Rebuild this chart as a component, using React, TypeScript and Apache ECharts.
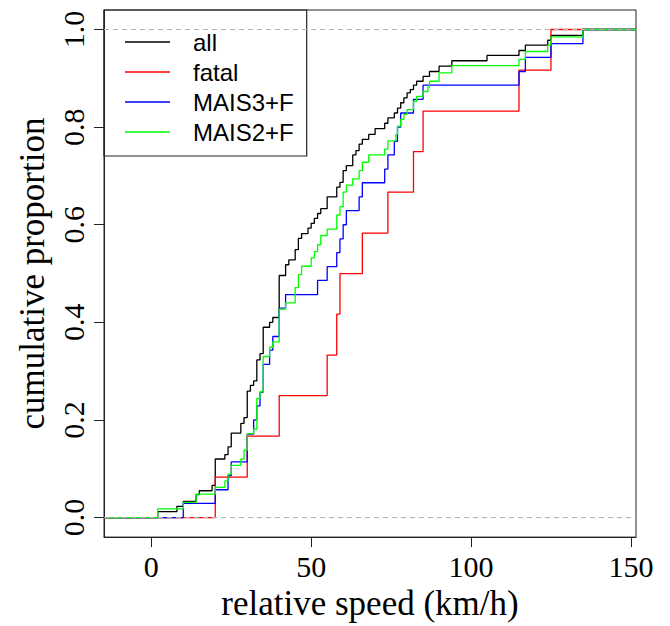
import React, { useEffect, useRef } from "react";
import * as echarts from "echarts";

const X_MIN = -14.8;
const X_MAX = 151.6;
const Y_MIN = -0.04;
const Y_MAX = 1.04;

const xTicks = [0, 50, 100, 150];
const yTicks = [0, 0.2, 0.4, 0.6, 0.8, 1.0];

const seriesNames = ["all", "fatal", "MAIS3+F", "MAIS2+F"];
const seriesColors = ["#000000", "#ff0000", "#0000ff", "#00ff00"];

// jump positions (km/h) and cumulative proportion after each jump
const allX = [2, 8, 10, 14, 15, 19, 20, 23, 24, 25, 28, 29, 30, 31, 32, 33, 34, 35, 37, 38, 40, 42, 43, 45, 46, 47, 49, 50, 51, 52, 53, 55, 58, 59, 60, 61, 63, 64, 65, 66, 68, 70, 73, 74, 76, 77, 78, 79, 80, 81, 82, 83, 85, 87, 90, 94, 105, 115, 117, 124, 125, 135];
const allY = [0.012, 0.023, 0.033, 0.047, 0.055, 0.066, 0.12, 0.129, 0.145, 0.173, 0.193, 0.205, 0.259, 0.271, 0.28, 0.323, 0.336, 0.39, 0.4, 0.41, 0.496, 0.518, 0.528, 0.549, 0.572, 0.582, 0.593, 0.603, 0.613, 0.623, 0.633, 0.657, 0.677, 0.687, 0.711, 0.721, 0.743, 0.752, 0.765, 0.775, 0.785, 0.797, 0.808, 0.819, 0.829, 0.839, 0.85, 0.86, 0.87, 0.877, 0.886, 0.894, 0.904, 0.914, 0.925, 0.936, 0.947, 0.957, 0.968, 0.978, 0.988, 1.0];

const fatalX = [20, 30, 40, 55, 58, 59, 66, 74, 82, 85, 115, 125];
const fatalY = [0.083, 0.167, 0.25, 0.333, 0.417, 0.5, 0.583, 0.667, 0.75, 0.833, 0.917, 1.0];

const mais3X = [10, 20, 24, 25, 30, 32, 33, 34, 35, 37, 38, 40, 42, 52, 55, 58, 59, 60, 61, 65, 66, 73, 74, 76, 77, 78, 82, 85, 115, 117, 125, 135];
const mais3Y = [0.029, 0.057, 0.086, 0.114, 0.171, 0.2, 0.229, 0.257, 0.314, 0.343, 0.371, 0.429, 0.457, 0.486, 0.514, 0.543, 0.571, 0.6, 0.629, 0.657, 0.686, 0.714, 0.743, 0.771, 0.8, 0.829, 0.857, 0.886, 0.914, 0.943, 0.971, 1.0];

const mais2X = [2, 10, 14, 20, 23, 24, 25, 28, 29, 30, 32, 33, 34, 35, 37, 38, 40, 42, 45, 46, 47, 50, 51, 52, 53, 55, 58, 59, 60, 61, 63, 65, 66, 68, 73, 74, 76.5, 77, 78, 79, 80, 82, 83, 85, 86.5, 87, 90, 94, 115, 117, 124, 125, 135];
const mais2Y = [0.018, 0.031, 0.048, 0.062, 0.075, 0.089, 0.107, 0.12, 0.138, 0.172, 0.181, 0.244, 0.258, 0.33, 0.349, 0.36, 0.427, 0.44, 0.471, 0.498, 0.515, 0.532, 0.545, 0.559, 0.578, 0.591, 0.62, 0.637, 0.667, 0.681, 0.694, 0.711, 0.728, 0.743, 0.755, 0.772, 0.785, 0.802, 0.816, 0.826, 0.836, 0.853, 0.863, 0.873, 0.882, 0.894, 0.911, 0.926, 0.939, 0.955, 0.968, 0.985, 1.0];

const seriesX = [allX, fatalX, mais3X, mais2X];
const seriesY = [allY, fatalY, mais3Y, mais2Y];

function steps(xs: number[], ys: number[]) {
  const pts: number[][] = [[X_MIN, 0]];
  xs.forEach((x, i) => pts.push([x, ys[i]]));
  pts.push([X_MAX, ys[ys.length - 1]]);
  return pts;
}

const SERIF = "'Liberation Serif', 'Times New Roman', serif";
const SANS = "'Liberation Sans', Arial, sans-serif";

export default function App() {
  const ref = useRef<HTMLDivElement>(null);
  useEffect(() => {
    if (!ref.current) return;
    const chart = echarts.init(ref.current, null, { renderer: "svg" });
    const lineSeries: any[] = seriesNames.map((name, i) => ({
      type: "line",
      name,
      data: steps(seriesX[i], seriesY[i]),
      step: "end",
      symbol: "none",
      showSymbol: false,
      lineStyle: { color: seriesColors[i], width: 1.3 },
      itemStyle: { color: seriesColors[i] },
      z: 2 + i,
      silent: true,
    }));
    [0, 1].forEach((lvl) => {
      lineSeries.push({
        type: "line",
        name: "ref" + lvl,
        data: [
          [X_MIN, lvl],
          [X_MAX, lvl],
        ],
        symbol: "none",
        lineStyle: { color: "#b3b3b3", width: 1, type: [5, 4] },
        z: 10,
        silent: true,
      });
    });
    chart.setOption({
      animation: false,
      backgroundColor: "#ffffff",
      grid: {
        left: 104,
        top: 10,
        width: 532,
        height: 533,
        show: true,
        borderColor: "#222",
        borderWidth: 1,
        containLabel: false,
      },
      legend: {
        data: seriesNames,
        orient: "vertical",
        left: 125,
        top: 30,
        padding: 0,
        itemWidth: 45,
        itemHeight: 14,
        itemGap: 6,
        icon: "path://M0 0H45V1.3H0Z",
        selectedMode: false,
        textStyle: {
          fontFamily: SANS,
          fontSize: 24,
          color: "#000",
          padding: [0, 0, 0, 18],
          lineHeight: 22,
        },
      },
      graphic: [
        {
          type: "rect",
          shape: { x: 104, y: 10, width: 202.7, height: 146 },
          style: { fill: "none", stroke: "#222", lineWidth: 1.2 },
          silent: true,
        },
      ],
      xAxis: {
        type: "value",
        min: X_MIN,
        max: X_MAX,
        axisLine: { show: true, onZero: false, lineStyle: { color: "#222" } },
        splitLine: { show: false },
        axisTick: {
          show: true,
          length: 10,
          customValues: xTicks,
          lineStyle: { color: "#222" },
        },
        axisLabel: {
          customValues: xTicks,
          fontFamily: SERIF,
          fontSize: 30,
          color: "#000",
          margin: 14,
        },
        name: "relative speed (km/h)",
        nameLocation: "middle",
        nameGap: 48,
        nameTextStyle: { fontFamily: SERIF, fontSize: 35, color: "#000" },
      },
      yAxis: {
        type: "value",
        min: Y_MIN,
        max: Y_MAX,
        axisLine: { show: true, onZero: false, lineStyle: { color: "#222" } },
        splitLine: { show: false },
        axisTick: {
          show: true,
          length: 10,
          customValues: yTicks,
          lineStyle: { color: "#222" },
        },
        axisLabel: {
          customValues: yTicks,
          formatter: (v: number) => v.toFixed(1),
          rotate: 90,
          fontFamily: SERIF,
          fontSize: 30,
          color: "#000",
          margin: 16,
        },
        name: "cumulative proportion",
        nameLocation: "middle",
        nameRotate: 90,
        nameGap: 54,
        nameTextStyle: { fontFamily: SERIF, fontSize: 35, color: "#000" },
      },
      series: lineSeries,
    });
    return () => chart.dispose();
  }, []);
  return (
    <div
      ref={ref}
      style={{ position: "absolute", left: 0, top: 0, width: 670, height: 626 }}
    />
  );
}
